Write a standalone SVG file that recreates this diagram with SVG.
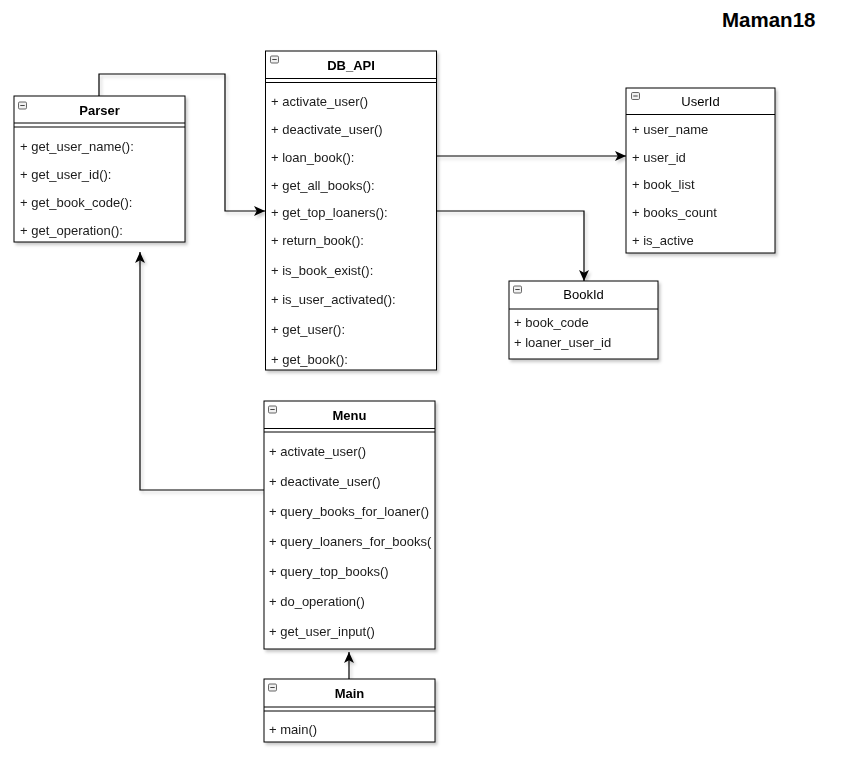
<svg xmlns="http://www.w3.org/2000/svg" width="857" height="769" viewBox="0 0 857 769">
<style>
  .box { fill: #ffffff; stroke: #000000; stroke-width: 1; }
  .sep { stroke: #000000; stroke-width: 1; fill: none; }
  .icon { fill: #f0f0f0; stroke: #555555; stroke-width: 0.9; }
  .iconbar { stroke: #444444; stroke-width: 1; }
  .item { font-family: "Liberation Sans", Arial, sans-serif; font-size: 13px; fill: #1a1a1a; }
  .hdrb { font-family: "Liberation Sans", Arial, sans-serif; font-size: 13px; font-weight: bold; fill: #000000; text-anchor: middle; }
  .hdr { font-family: "Liberation Sans", Arial, sans-serif; font-size: 13px; fill: #000000; text-anchor: middle; }
  .edge { fill: none; stroke: #000000; stroke-width: 1.2; }
  .title { font-family: "Liberation Sans", Arial, sans-serif; font-size: 20.5px; font-weight: bold; fill: #000000; }
</style>
<defs>
  <filter id="sh" x="-10%" y="-10%" width="130%" height="130%">
    <feDropShadow dx="2" dy="2.5" stdDeviation="1.5" flood-color="#000000" flood-opacity="0.22"/>
  </filter>
  <marker id="arr" viewBox="0 0 10 9" refX="10" refY="4.5" markerWidth="11" markerHeight="10" markerUnits="userSpaceOnUse" orient="auto">
    <path d="M0,0 L10,4.5 L0,9 L2.5,4.5 Z" fill="#000000"/>
  </marker>
  <g id="ic">
    <rect class="icon" x="0" y="0" width="8" height="7" rx="1.2"/>
    <line class="iconbar" x1="1.8" y1="3.5" x2="6.2" y2="3.5"/>
  </g>
</defs>
<rect width="857" height="769" fill="#ffffff"/>

<text class="title" x="722" y="27">Maman18</text>

<g id="connectors" filter="url(#sh)">
  <path class="edge" d="M99,96 V74 H225 V211 H265" marker-end="url(#arr)"/>
  <path class="edge" d="M437,156 H626" marker-end="url(#arr)"/>
  <path class="edge" d="M437,211 H584 V281" marker-end="url(#arr)"/>
  <path class="edge" d="M264,490 H140 V252" marker-end="url(#arr)"/>
  <path class="edge" d="M349,679 V652" marker-end="url(#arr)"/>
</g>

<g id="Parser" filter="url(#sh)">
  <rect class="box" x="14" y="96" width="171" height="146"/>
  <line class="sep" x1="14" y1="123" x2="185" y2="123"/>
  <line class="sep" x1="14" y1="127" x2="185" y2="127"/>
  <use href="#ic" x="18.5" y="102"/>
  <text class="hdrb" x="99.5" y="115">Parser</text>
  <text class="item" x="20" y="151">+ get_user_name():</text>
  <text class="item" x="20" y="179">+ get_user_id():</text>
  <text class="item" x="20" y="207">+ get_book_code():</text>
  <text class="item" x="20" y="235">+ get_operation():</text>
</g>

<g id="DB_API" filter="url(#sh)">
  <rect class="box" x="265.5" y="51" width="171" height="319"/>
  <line class="sep" x1="265.5" y1="78.5" x2="436.5" y2="78.5"/>
  <line class="sep" x1="265.5" y1="82.5" x2="436.5" y2="82.5"/>
  <use href="#ic" x="270.5" y="56"/>
  <text class="hdrb" x="351" y="70">DB_API</text>
  <text class="item" x="271" y="106">+ activate_user()</text>
  <text class="item" x="271" y="134">+ deactivate_user()</text>
  <text class="item" x="271" y="162">+ loan_book():</text>
  <text class="item" x="271" y="190">+ get_all_books():</text>
  <text class="item" x="271" y="217">+ get_top_loaners():</text>
  <text class="item" x="271" y="245">+ return_book():</text>
  <text class="item" x="271" y="275">+ is_book_exist():</text>
  <text class="item" x="271" y="304">+ is_user_activated():</text>
  <text class="item" x="271" y="334">+ get_user():</text>
  <text class="item" x="271" y="364">+ get_book():</text>
</g>

<g id="UserId" filter="url(#sh)">
  <rect class="box" x="626" y="88" width="149" height="165"/>
  <line class="sep" x1="626" y1="114.5" x2="775" y2="114.5"/>
  <use href="#ic" x="631.5" y="92.5"/>
  <text class="hdr" x="700.5" y="106">UserId</text>
  <text class="item" x="632" y="134">+ user_name</text>
  <text class="item" x="632" y="162">+ user_id</text>
  <text class="item" x="632" y="189">+ book_list</text>
  <text class="item" x="632" y="217">+ books_count</text>
  <text class="item" x="632" y="245">+ is_active</text>
</g>

<g id="BookId" filter="url(#sh)">
  <rect class="box" x="509" y="281" width="149" height="78"/>
  <line class="sep" x1="509" y1="309" x2="658" y2="309"/>
  <use href="#ic" x="513.5" y="286"/>
  <text class="hdr" x="583.5" y="299">BookId</text>
  <text class="item" x="514" y="327">+ book_code</text>
  <text class="item" x="514" y="347">+ loaner_user_id</text>
</g>

<g id="Menu" filter="url(#sh)">
  <rect class="box" x="264" y="401" width="171" height="248"/>
  <line class="sep" x1="264" y1="428.5" x2="435" y2="428.5"/>
  <line class="sep" x1="264" y1="432" x2="435" y2="432"/>
  <use href="#ic" x="268.5" y="406"/>
  <text class="hdrb" x="349.5" y="420">Menu</text>
  <text class="item" x="269" y="456">+ activate_user()</text>
  <text class="item" x="269" y="486">+ deactivate_user()</text>
  <text class="item" x="269" y="516">+ query_books_for_loaner()</text>
  <text class="item" x="269" y="546">+ query_loaners_for_books(</text>
  <text class="item" x="269" y="576">+ query_top_books()</text>
  <text class="item" x="269" y="606">+ do_operation()</text>
  <text class="item" x="269" y="636">+ get_user_input()</text>
</g>

<g id="Main" filter="url(#sh)">
  <rect class="box" x="264" y="679" width="171" height="63"/>
  <line class="sep" x1="264" y1="707" x2="435" y2="707"/>
  <line class="sep" x1="264" y1="711" x2="435" y2="711"/>
  <use href="#ic" x="268.5" y="684"/>
  <text class="hdrb" x="349.5" y="698">Main</text>
  <text class="item" x="269" y="734">+ main()</text>
</g>
</svg>
